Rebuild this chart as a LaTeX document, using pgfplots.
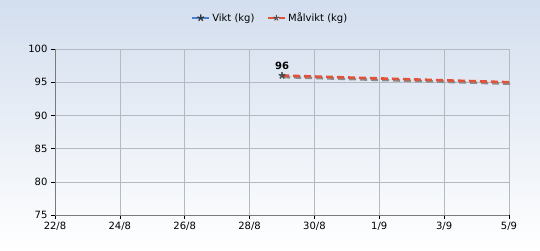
\documentclass[border=0pt]{standalone}
\usepackage{pgfplots}
\pgfplotsset{compat=1.18}
\usepackage{fontspec}
\setmainfont{DejaVu Sans}
\definecolor{bgtop}{HTML}{D3DEEE}
\definecolor{bgbot}{HTML}{FFFFFF}
\definecolor{vikt}{HTML}{4A7FD0}
\definecolor{mal}{HTML}{E0533A}
\definecolor{gridc}{HTML}{B4B9C2}
\definecolor{axc}{HTML}{7A7A7A}
\begin{document}
\begin{tikzpicture}
\shade[top color=bgtop, bottom color=bgbot] (-55pt,-35pt) rectangle (485pt,215pt);
\begin{axis}[
  name=ax,
  at={(0,0)}, anchor=south west,
  scale only axis,
  width=454pt, height=166pt,
  xmin=0, xmax=14, ymin=75, ymax=100,
  xtick={0,2,4,6,8,10,12,14},
  xticklabels={22/8,24/8,26/8,28/8,30/8,1/9,3/9,5/9},
  ytick={75,80,85,90,95,100},
  /pgf/number format/assume math mode=true,
  tick label style={font=\fontsize{10}{11}\selectfont, text=black},
  grid=major,
  major grid style={gridc, line width=0.6pt},
  axis line style={axc, line width=0.8pt},
  axis x line*=bottom, axis y line*=left,
  tick align=outside,
  major tick length=4pt,
  tick style={black, line width=0.6pt},
  xtick pos=bottom, ytick pos=left,
  legend columns=2,
  legend style={at={(0.474,1.187)}, anchor=center, draw=none, fill=none,
    font=\fontsize{10}{11}\selectfont, /tikz/every even column/.append style={column sep=10pt}},
  legend cell align=left,
  clip=false,
  every axis plot/.append style={line join=round},
]
% Vikt series
\addplot[vikt, line width=2pt, mark=star, mark size=3.5pt,
  mark options={black!80, line width=1.2pt, solid},
  nodes near coords, point meta=explicit symbolic,
  every node near coord/.append style={font=\fontsize{10}{11}\selectfont\bfseries, text=black, yshift=2pt}]
  coordinates {(7,96) [96]};
\addlegendentry{Vikt (kg)}
% Malvikt shadow
\addplot[black!45, line width=2.6pt, dash pattern=on 7pt off 4pt, forget plot,
  shift={(1.2pt,-1.5pt)}]
  coordinates {(7,96.0) (14,95.0)};
% Malvikt
\addplot[mal, line width=2.6pt, dash pattern=on 7pt off 4pt,
  mark=star, mark size=3pt, mark options={black!70, solid, line width=1pt}, mark repeat=100]
  coordinates {(7,96.0) (14,95.0)};
\addlegendentry{Målvikt (kg)}
\end{axis}
\end{tikzpicture}
\end{document}
